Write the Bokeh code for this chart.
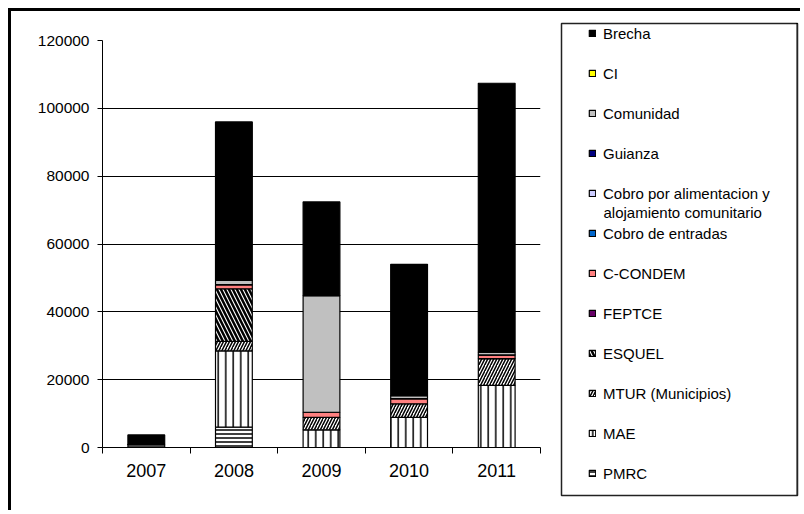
from bokeh.plotting import figure
from bokeh.layouts import row
from bokeh.models import (Range1d, FixedTicker, Legend, LegendItem, Label,
                          CustomJSTickFormatter)
from bokeh.embed import file_html
from bokeh.resources import INLINE

# ---------------- data ----------------
years = ["2007", "2008", "2009", "2010", "2011"]
pmrc = [900, 6000, 0, 0, 0]
mae = [0, 22500, 5200, 8900, 18300]
mtur = [0, 2800, 3700, 4000, 7900]
esquel = [0, 15500, 0, 0, 0]
feptce = [0, 0, 0, 0, 0]
c_condem = [0, 1200, 1500, 1500, 1100]
cobro_entradas = [0, 0, 0, 0, 0]
cobro_alimentacion = [0, 0, 0, 0, 0]
guianza = [0, 0, 0, 0, 0]
comunidad = [0, 1300, 34400, 900, 800]
ci = [0, 0, 0, 0, 0]
brecha = [2800, 46700, 27600, 38700, 79300]

y_ticks = [0, 20000, 40000, 60000, 80000, 100000, 120000]

# stacking order, bottom to top
series_names = ["PMRC", "MAE", "MTUR (Municipios)", "ESQUEL", "FEPTCE", "C-CONDEM",
                "Cobro de entradas", "Cobro por alimentacion y", "Guianza",
                "Comunidad", "CI", "Brecha"]
series_values = [pmrc, mae, mtur, esquel, feptce, c_condem, cobro_entradas,
                 cobro_alimentacion, guianza, comunidad, ci, brecha]
second_line = "alojamiento comunitario"

# ---------------- styles ----------------
FONT = "Liberation Sans"
styles = {
    "PMRC": dict(fill_color="white", hatch_pattern="horizontal_line", hatch_scale=4, hatch_weight=1.5),
    "MAE": dict(fill_color="white", hatch_pattern="vertical_line", hatch_scale=7.5, hatch_weight=1.5),
    "MTUR (Municipios)": dict(fill_color="white", hatch_pattern="right_diagonal_line", hatch_scale=6, hatch_weight=1.5),
    "ESQUEL": dict(fill_color="white", hatch_pattern="left_diagonal_line", hatch_scale=8, hatch_weight=2.5),
    "FEPTCE": dict(fill_color="#660066"),
    "C-CONDEM": dict(fill_color="#FF8080"),
    "Cobro de entradas": dict(fill_color="#0066CC"),
    "Cobro por alimentacion y": dict(fill_color="#CCCCFF"),
    "Guianza": dict(fill_color="#000080"),
    "Comunidad": dict(fill_color="#C0C0C0"),
    "CI": dict(fill_color="#FFFF00"),
    "Brecha": dict(fill_color="#000000"),
}
FRAME_CSS = "3px solid black"

# stacked extents
xs = [i + 0.5 for i in range(len(years))]
stack = []
bottoms = [0] * len(years)
for name, vals in zip(series_names, series_values):
    tops = [b + v for b, v in zip(bottoms, vals)]
    stack.append((name, list(bottoms), tops))
    bottoms = tops

# ---------------- chart ----------------
W1, H = 552, 502
p = figure(width=W1, height=H, output_backend="svg", toolbar_location=None,
           x_range=Range1d(0, len(years)), y_range=Range1d(0, 120000),
           min_border_left=91, min_border_right=23, min_border_top=29,
           min_border_bottom=H - 436)
p.outline_line_color = None
p.background_fill_color = "white"
p.border_fill_color = "white"
p.styles = {"margin-top": "8px", "margin-left": "8px",
            "border-top": FRAME_CSS, "border-left": FRAME_CSS}

for name, b, t in stack:
    p.vbar(x=xs, bottom=b, top=t, width=0.42, line_color="black", line_width=1.2,
           hatch_color="black", **styles[name])

p.xgrid.grid_line_color = None
p.ygrid.grid_line_color = "black"
p.ygrid.grid_line_width = 1

p.yaxis.ticker = FixedTicker(ticks=y_ticks, minor_ticks=[])
p.yaxis.formatter = CustomJSTickFormatter(code="return tick.toFixed(0);")
p.yaxis.axis_line_color = "black"
p.yaxis.major_tick_line_color = "black"
p.yaxis.major_tick_out = 5
p.yaxis.major_tick_in = 0
p.yaxis.minor_tick_line_color = None
p.yaxis.major_label_text_font = FONT
p.yaxis.major_label_text_font_size = "15.5px"
p.yaxis.major_label_text_color = "black"
p.yaxis.major_label_standoff = 8

p.xaxis.ticker = FixedTicker(ticks=xs, minor_ticks=list(range(len(years) + 1)))
p.xaxis.formatter = CustomJSTickFormatter(
    args=dict(labels=years),
    code="const i = Math.floor(tick); return (i >= 0 && i < labels.length) ? labels[i] : '';")
p.xaxis.axis_line_color = "black"
p.xaxis.major_tick_line_color = None
p.xaxis.major_tick_out = 6
p.xaxis.major_tick_in = 0
p.xaxis.minor_tick_line_color = "black"
p.xaxis.minor_tick_out = 6
p.xaxis.minor_tick_in = 0
p.xaxis.major_label_text_font = FONT
p.xaxis.major_label_text_font_size = "18px"
p.xaxis.major_label_text_color = "black"
p.xaxis.major_label_standoff = 10

# ---------------- legend panel ----------------
W2 = 240
q = figure(width=W2, height=H, output_backend="svg", toolbar_location=None,
           x_range=Range1d(-20, -19), y_range=Range1d(0, 1),
           x_axis_location=None, y_axis_location=None,
           min_border_left=1, min_border_right=3, min_border_top=12,
           min_border_bottom=H - 484)
q.grid.visible = False
q.outline_line_color = "#222222"
q.outline_line_width = 1.5
q.background_fill_color = "white"
q.border_fill_color = "white"
q.styles = {"margin-top": "8px", "border-top": FRAME_CSS}
for fig in (p, q):
    try:
        fig.frame_align = False
    except AttributeError:
        pass

legend_renderers = {}
for name, b, t in stack:
    # same data, outside this panel's visible range: only used for the legend swatches
    legend_renderers[name] = q.vbar(x=xs, bottom=b, top=t, width=0.42, line_color="black",
                                    line_width=1.2, hatch_color="black", **styles[name])

items = [LegendItem(label=n, renderers=[legend_renderers[n]]) for n in reversed(series_names)]
legend = Legend(items=items, location=(27, 13), orientation="vertical",
                padding=0, spacing=22, label_height=18, glyph_height=8, glyph_width=8,
                label_standoff=7, border_line_color=None, background_fill_alpha=0,
                label_text_font=FONT, label_text_font_size="15px",
                label_text_color="black")
q.add_layout(legend)
q.add_layout(Label(x=42, y=283, x_units="screen", y_units="screen",
                   text=second_line, text_font=FONT, text_font_size="15px",
                   text_baseline="middle", text_color="black"))

layout = row(p, q)
open("out.html", "w").write(file_html(layout, INLINE))
